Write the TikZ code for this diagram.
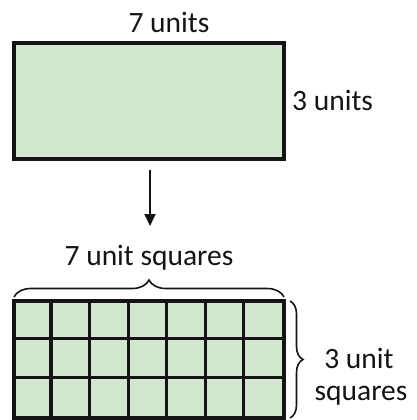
\documentclass[tikz,border=0pt]{standalone}
\usepackage{fontspec}
\setmainfont{Carlito}
\usetikzlibrary{arrows.meta,decorations.pathreplacing}
\definecolor{pale}{HTML}{D3E6CF}
\definecolor{ink}{HTML}{141414}
\begin{document}
\begin{tikzpicture}[x=1pt,y=-1pt,
  lbl/.style={font=\fontsize{29.5}{32}\selectfont, inner sep=0pt, text=ink},
  box/.style={draw=ink, fill=pale, line width=3.2pt, inner sep=0pt},
  bracebig/.style={decorate, decoration={brace, amplitude=#1}, line width=1.6pt, draw=ink}]
\useasboundingbox (0,0) rectangle (417,420);
% top rectangle
\node[box, minimum width=270pt, minimum height=116pt] (r1) at (149,101) {};
\node[lbl, anchor=base] (w1) at (169,33) {7 units};
\node[lbl, anchor=base west] (h1) at (292,110) {3 units};
% arrow
\coordinate (a1) at (150,170);
\coordinate (a2) at (150,226);
\draw[line width=1.8pt, draw=ink, -{Triangle[length=12pt,width=11pt]}] (a1) -- (a2);
% grid
\node[box, minimum width=270pt, minimum height=117pt] (r2) at (149,359.5) {};
\foreach \i in {1,...,6}
  \draw[ink, line width=3.2pt] ([xshift=\i*270/7 pt]r2.north west) -- ([xshift=\i*270/7 pt]r2.south west);
\foreach \j in {1,2}
  \draw[ink, line width=3.2pt] ([yshift=-\j*39 pt]r2.north west) -- ([yshift=-\j*39 pt]r2.north east);
% braces
\coordinate (b1) at (14,297);
\coordinate (b2) at (284,297);
\draw[bracebig=17pt] (b1) -- (b2);
\node[lbl, anchor=base] (w2) at (149,265) {7 unit squares};
\coordinate (c1) at (290,301);
\coordinate (c2) at (290,418);
\draw[bracebig=13pt] (c1) -- (c2);
\node[lbl, anchor=base] (h2a) at (359,368) {3 unit};
\node[lbl, anchor=base] (h2b) at (361,400) {squares};
\end{tikzpicture}
\end{document}
